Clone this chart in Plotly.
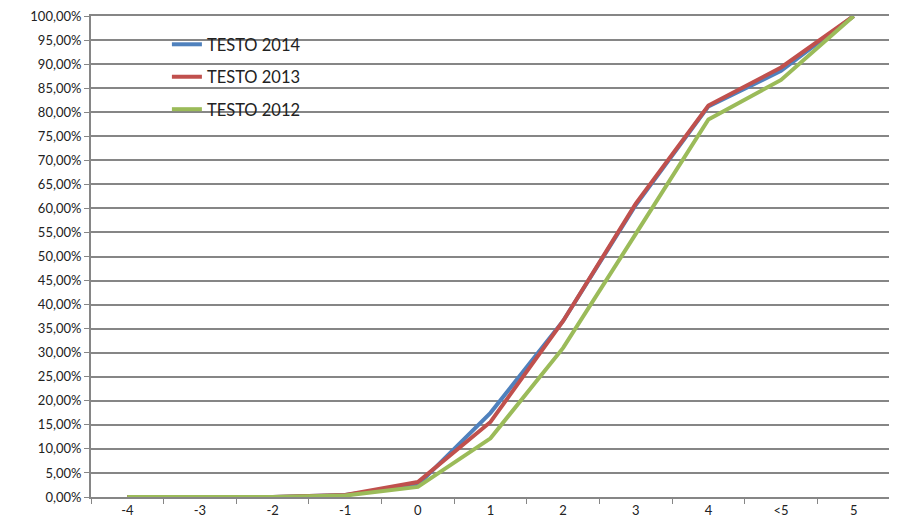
import plotly.graph_objects as go

categories = ["-4", "-3", "-2", "-1", "0", "1", "2", "3", "4", "<5", "5"]
testo_2014 = [0.0, 0.0, 0.0, 0.004, 0.025, 0.175, 0.366, 0.607, 0.812, 0.886, 1.0]
testo_2013 = [0.0, 0.0, 0.0, 0.004, 0.031, 0.156, 0.366, 0.610, 0.814, 0.893, 1.0]
testo_2012 = [0.0, 0.0, 0.0, 0.003, 0.021, 0.122, 0.310, 0.547, 0.785, 0.867, 1.0]

series = [
    ("TESTO 2014", testo_2014, "#4F81BD"),
    ("TESTO 2013", testo_2013, "#C0504D"),
    ("TESTO 2012", testo_2012, "#9BBB59"),
]

fig = go.Figure()
for name, vals, color in series:
    fig.add_trace(go.Scatter(
        x=categories, y=vals, name=name, mode="lines", legendgroup=name,
        line=dict(color=color, width=4),
    ))

# white box behind the legend, hides the gridlines like the original
fig.add_shape(
    type="rect", xref="paper", yref="paper", layer="between",
    x0=0.036, x1=0.327, y0=0.774, y1=0.975,
    fillcolor="white", line=dict(width=0),
)

fig.update_layout(
    width=889, height=519,
    margin=dict(l=83, r=7, t=8, b=30),
    paper_bgcolor="white", plot_bgcolor="white",
    separators=", ",
    font=dict(family="Lato", size=13, color="#222"),
    legend=dict(
        x=0.095, y=0.977, xanchor="left", yanchor="top",
        bgcolor="rgba(0,0,0,0)", font=dict(size=16.5, color="#222"),
        tracegroupgap=8, itemwidth=30,
    ),
)
# mirror draws the top line that stands for the 100% gridline
fig.update_xaxes(
    type="category", tickson="boundaries", ticks="outside", ticklen=5,
    tickcolor="#868686", showline=True, linecolor="#868686", linewidth=2,
    mirror=True, showgrid=False, range=[-0.5, 10.5], automargin=False,
)
fig.update_yaxes(
    range=[0, 1], tick0=0, dtick=0.05, tickformat=".2%",
    ticklabeloverflow="allow", automargin=False,
    ticks="outside", ticklen=5, tickcolor="#868686",
    showline=True, linecolor="#868686", linewidth=2,
    showgrid=True, gridcolor="#868686", gridwidth=2,
    zeroline=False,
)

fig.write_html("out.html")
